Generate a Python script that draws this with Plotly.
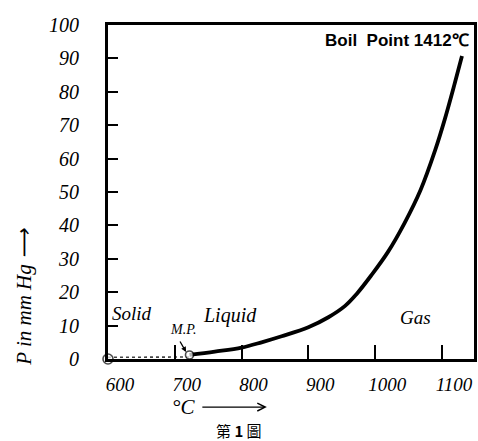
import plotly.graph_objects as go

# Vapour pressure curve (liquid), from the melting point up to the boiling region
temp_c = [722, 760, 800, 830, 860, 900, 930, 955, 972, 994, 1019, 1044, 1068, 1090, 1104, 1119, 1130]
pressure_mmhg = [1.2, 2.2, 3.4, 5.0, 6.8, 9.5, 12.5, 15.9, 19.4, 25.0, 32.0, 40.7, 50.6, 62.6, 71.6, 82.4, 90.7]

# Solid-phase pressure, practically zero below the melting point
solid_temp = [600, 722]
solid_pressure = [0.5, 0.6]

# Marked points: start of the scale and the melting point
marker_temp = [600, 722]
marker_pressure = [0, 1.2]

x_ticks = [600, 700, 800, 900, 1000, 1100]
x_tick_labels = ["600", "700", "800", "900", "1000", "1100"]
y_ticks = [0, 10, 20, 30, 40, 50, 60, 70, 80, 90, 100]
y_tick_labels = [str(v) for v in y_ticks]

hand = "Liberation Serif"

fig = go.Figure()

fig.add_trace(go.Scatter(
    x=solid_temp, y=solid_pressure, mode="lines",
    line=dict(color="#444", width=1.6, dash="dot"),
    hoverinfo="skip", showlegend=False,
))
fig.add_trace(go.Scatter(
    x=temp_c, y=pressure_mmhg, mode="lines",
    line=dict(color="black", width=3.8, shape="spline", smoothing=1.0),
    showlegend=False,
))
fig.add_trace(go.Scatter(
    x=marker_temp, y=marker_pressure, mode="markers",
    marker=dict(symbol="circle", size=[10, 8], color="white",
                line=dict(color="black", width=1.6)),
    cliponaxis=False, showlegend=False,
))

label_font = dict(family=hand, size=19, color="black", style="italic")

annotations = [
    dict(x=636, y=13.5, text="Solid", showarrow=False, font=label_font),
    dict(x=782, y=13, text="Liquid", showarrow=False,
         font=dict(family=hand, size=20, color="black", style="italic")),
    dict(x=1061, y=12.3, text="Gas", showarrow=False, font=label_font),
    dict(x=712, y=8.9, text="M.P.", showarrow=False,
         font=dict(family=hand, size=14, color="black", style="italic")),
    dict(x=717, y=2.1, text="", showarrow=True, axref="pixel", ayref="pixel",
         ax=-7, ay=-12, arrowhead=2, arrowsize=0.8, arrowwidth=1.3,
         arrowcolor="black"),
    dict(x=1144, y=95.3, xanchor="right", text="Boil  Point 1412℃",
         showarrow=False,
         font=dict(family="Liberation Sans", size=17, color="black", weight="bold")),
    # y-axis title, reading upwards
    dict(xref="paper", yref="paper", x=-0.228, y=0.185, xanchor="center",
         yanchor="middle", text="P in mm Hg ⟶", textangle=-90, showarrow=False,
         font=dict(family=hand, size=21, color="black", style="italic")),
    # x-axis title: °C followed by a long arrow
    dict(xref="paper", yref="paper", x=0.205, y=-0.144, xanchor="center",
         yanchor="middle", text="°C", showarrow=False,
         font=dict(family=hand, size=21, color="black", style="italic")),
    dict(xref="paper", yref="paper", x=0.434, y=-0.144, text="", showarrow=True,
         axref="pixel", ayref="pixel", ax=-66, ay=0, arrowhead=5,
         arrowsize=1.1, arrowwidth=1.4, arrowcolor="black"),
    dict(xref="paper", yref="paper", x=0.358, y=-0.213, xanchor="center",
         yanchor="middle", text="第 <b>1</b> 圖", showarrow=False,
         font=dict(family="Noto Sans CJK TC", size=15, color="black")),
]

fig.update_layout(
    width=478, height=441,
    margin=dict(l=108, r=1, t=25, b=82),
    paper_bgcolor="white", plot_bgcolor="white",
    annotations=annotations,
    showlegend=False,
)

fig.update_xaxes(
    range=[600, 1148], tickvals=x_ticks, ticktext=x_tick_labels,
    ticks="inside", ticklen=14, tickwidth=1.5, tickcolor="black",
    showline=True, linewidth=3, linecolor="black", mirror=True,
    showgrid=False, zeroline=False,
    tickfont=dict(family=hand, size=19, color="black", style="italic"),
    ticklabelshift=12, ticklabelstandoff=6,
)
fig.update_yaxes(
    range=[0, 100], tickvals=y_ticks, ticktext=y_tick_labels,
    ticks="inside", ticklen=10, tickwidth=1.5, tickcolor="black",
    showline=True, linewidth=3, linecolor="black", mirror=True,
    showgrid=False, zeroline=False,
    tickfont=dict(family=hand, size=20, color="black", style="italic"),
    ticklabelstandoff=22,
)

fig.write_html("out.html")
